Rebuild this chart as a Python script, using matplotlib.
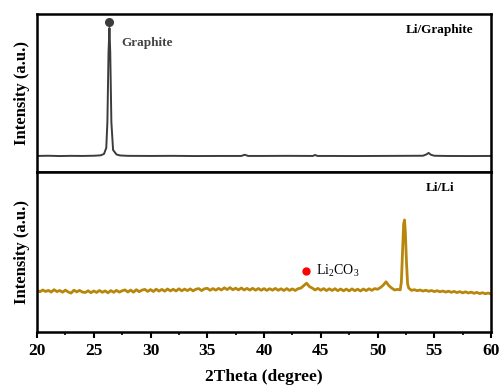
import numpy as np
import matplotlib
matplotlib.use('Agg')
import matplotlib.pyplot as plt
from matplotlib.ticker import MultipleLocator

plt.rcParams['font.family'] = ['Liberation Serif', 'DejaVu Serif']
plt.rcParams['mathtext.fontset'] = 'custom'
plt.rcParams['mathtext.rm'] = 'Liberation Serif'

# Li/Graphite pattern (2theta, intensity a.u.)
graphite_tt = [20.0, 21.0, 22.0, 23.0, 24.0, 25.0, 25.6, 25.9, 26.1, 26.2, 26.3,
               26.38, 26.45, 26.55, 26.7, 27.0, 27.3, 28.0, 30.0, 32.0, 34.0,
               36.0, 38.0, 38.3, 38.6, 40.0, 42.0, 44.3, 44.5, 44.7, 46.0, 48.0,
               50.0, 52.0, 54.0, 54.3, 54.5, 54.7, 55.0, 56.0, 58.0, 60.0]
graphite_int = [16.0, 16.2, 15.9, 16.1, 16.0, 16.2, 16.6, 18.0, 24.0, 50.0, 120.0,
                144.0, 120.0, 50.0, 22.0, 17.5, 16.5, 16.1, 16.0, 16.1, 15.9,
                16.0, 16.0, 17.2, 16.0, 16.0, 16.1, 16.0, 17.0, 16.0, 16.0, 15.9,
                16.0, 16.1, 16.2, 17.5, 19.0, 17.2, 16.2, 16.0, 15.9, 16.0]

# Li/Li pattern (2theta, intensity a.u.)
lili_tt = [20.0, 20.25, 20.5, 20.75, 21.0, 21.25, 21.5, 21.75, 22.0, 22.25, 22.5,
           22.75, 23.0, 23.25, 23.5, 23.75, 24.0, 24.25, 24.5, 24.75, 25.0, 25.25,
           25.5, 25.75, 26.0, 26.25, 26.5, 26.75, 27.0, 27.25, 27.5, 27.75, 28.0,
           28.25, 28.5, 28.75, 29.0, 29.25, 29.5, 29.75, 30.0, 30.25, 30.5, 30.75,
           31.0, 31.25, 31.5, 31.75, 32.0, 32.25, 32.5, 32.75, 33.0, 33.25, 33.5,
           33.75, 34.0, 34.25, 34.5, 34.75, 35.0, 35.25, 35.5, 35.75, 36.0, 36.25,
           36.5, 36.75, 37.0, 37.25, 37.5, 37.75, 38.0, 38.25, 38.5, 38.75, 39.0,
           39.25, 39.5, 39.75, 40.0, 40.25, 40.5, 40.75, 41.0, 41.25, 41.5, 41.75,
           42.0, 42.25, 42.5, 42.75, 43.0, 43.25, 43.5, 43.75, 44.0, 44.25, 44.5,
           44.75, 45.0, 45.25, 45.5, 45.75, 46.0, 46.25, 46.5, 46.75, 47.0, 47.25,
           47.5, 47.75, 48.0, 48.25, 48.5, 48.75, 49.0, 49.25, 49.5, 49.75, 50.0,
           50.25, 50.5, 50.75, 51.0, 51.25, 51.5, 51.75, 52.0, 52.1, 52.2, 52.3,
           52.38, 52.45, 52.55, 52.65, 52.75, 53.0, 53.25, 53.5, 53.75, 54.0,
           54.25, 54.5, 54.75, 55.0, 55.25, 55.5, 55.75, 56.0, 56.25, 56.5, 56.75,
           57.0, 57.25, 57.5, 57.75, 58.0, 58.25, 58.5, 58.75, 59.0, 59.25, 59.5,
           59.75, 60.0]
lili_int = [41.8, 40.2, 42.0, 40.5, 41.6, 39.9, 42.3, 40.4, 41.5, 39.8, 41.9,
            40.0, 38.9, 41.8, 40.1, 41.6, 39.9, 39.5, 41.2, 39.3, 41.0, 39.6,
            41.5, 39.7, 41.1, 39.2, 41.4, 39.7, 41.6, 39.9, 41.2, 42.1, 40.0,
            41.9, 39.8, 42.3, 40.3, 41.9, 42.6, 40.6, 42.4, 40.5, 42.8, 40.9,
            42.6, 40.8, 43.0, 41.1, 42.7, 41.0, 43.2, 41.2, 42.9, 41.4, 43.1,
            41.1, 42.8, 43.4, 41.4, 43.2, 43.7, 41.7, 43.4, 41.8, 43.6, 42.0,
            44.2, 42.4, 44.4, 42.2, 43.8, 42.1, 44.0, 42.0, 43.6, 41.9, 43.7,
            41.8, 43.5, 41.7, 43.4, 41.6, 43.3, 41.8, 43.6, 41.7, 43.2, 41.5,
            43.4, 41.6, 43.1, 41.5, 43.3, 43.9, 46.4, 48.8, 45.4, 43.9, 42.0,
            43.6, 41.7, 43.4, 41.4, 43.2, 41.5, 43.3, 41.3, 43.0, 41.2, 42.9,
            41.1, 43.1, 41.3, 42.8, 41.0, 43.0, 41.4, 43.2, 41.6, 43.4, 42.7,
            44.4, 46.8, 50.2, 46.3, 43.9, 42.0, 42.6, 42.1, 50.0, 80.0, 108.0,
            112.0, 100.0, 70.0, 48.0, 43.9, 41.6, 42.3, 41.3, 42.0, 40.9,
            41.8, 40.7, 41.5, 40.4, 41.3, 40.2, 41.0, 39.9, 40.8, 39.7, 40.6,
            39.4, 40.4, 39.1, 40.2, 39.0, 39.9, 38.7, 39.6, 38.4, 39.3, 38.2,
            39.0, 38.0]

xticks = [20, 25, 30, 35, 40, 45, 50, 55, 60]
graphite_peak = (26.35, 150.0)
li2co3_peak = (43.7, 61.0)

fig = plt.figure(figsize=(5.01, 3.89), dpi=100)
ax_top = fig.add_axes([0.0739, 0.558, 0.9062, 0.406])
ax_bot = fig.add_axes([0.0739, 0.1465, 0.9062, 0.4115])

for ax in (ax_top, ax_bot):
    ax.set_xlim(20, 60)
    for sp in ax.spines.values():
        sp.set_linewidth(1.8)
    ax.set_yticks([])
    ax.set_ylabel('Intensity (a.u.)', fontsize=12, fontweight='bold', labelpad=5)

# top panel
ax_top.plot(graphite_tt, graphite_int, color='#3c3c3c', lw=1.4)
ax_top.plot(*graphite_peak, 'o', color='#3c3c3c', ms=5.5)
ax_top.set_ylim(0, 158)
ax_top.set_xticks([])
ax_top.text(27.4, 129, 'Graphite', fontsize=9.5, fontweight='bold', color='#444444',
            va='center', ha='left')
ax_top.text(0.96, 0.9, 'Li/Graphite', transform=ax_top.transAxes, fontsize=9.5,
            fontweight='bold', ha='right', va='center')

# bottom panel
ax_bot.plot(lili_tt, lili_int, color='#b8860b', lw=2.0)
ax_bot.plot(*li2co3_peak, 'o', color='#ff0000', ms=5)
ax_bot.text(44.6, 61.0, r'Li$_\mathregular{2}$CO$_\mathregular{3}$', fontsize=10,
            ha='left', va='center')
ax_bot.text(0.92, 0.9, 'Li/Li', transform=ax_bot.transAxes, fontsize=9.5,
            fontweight='bold', ha='right', va='center')
ax_bot.set_ylim(0, 160)
ax_bot.set_xticks(xticks)
ax_bot.xaxis.set_minor_locator(MultipleLocator(2.5))
ax_bot.tick_params(axis='x', which='major', direction='out', length=4, width=1.5,
                   labelsize=12.5, pad=4)
ax_bot.tick_params(axis='x', which='minor', direction='out', length=2.5, width=1.2)
for lbl in ax_bot.get_xticklabels():
    lbl.set_fontweight('bold')
ax_bot.set_xlabel('2Theta (degree)', fontsize=12.5, fontweight='bold', labelpad=7)

fig.savefig('out.png', dpi=100)
